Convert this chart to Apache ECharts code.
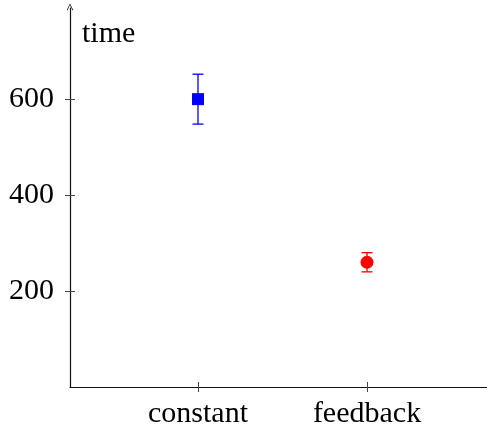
<!DOCTYPE html>
<html>
<head>
<meta charset="utf-8">
<script src="https://cdn.jsdelivr.net/npm/echarts@6/dist/echarts.min.js"></script>
<style>
  html, body { margin: 0; padding: 0; background: #fff; }
  #chart { width: 487px; height: 430px; }
</style>
</head>
<body>
<div id="chart"></div>
<script>
// Conditions and their mean times with error half-widths
const categories = ['constant', 'feedback'];
const meanTimes = [600, 260];
const errorLow = [548, 240];
const errorHigh = [652, 280];
const seriesColors = ['#0000ff', '#ff0000'];
const seriesSymbols = ['rect', 'circle'];
const yTicks = [200, 400, 600];

const FONT = '"Liberation Serif", "DejaVu Serif", serif';
const xPositions = categories.map((c, i) => i + 1);

const chart = echarts.init(document.getElementById('chart'), null, { renderer: 'canvas' });

const baseX = {
  type: 'value', min: 0.2426, max: 2.71,
  splitLine: { show: false }
};
const baseY = {
  type: 'value', min: 0, max: 790,
  splitLine: { show: false }
};

const series = [];
categories.forEach((cat, i) => {
  // error bar: vertical stem with caps
  series.push({
    type: 'custom',
    xAxisIndex: 0, yAxisIndex: 0,
    data: [[xPositions[i], errorLow[i], errorHigh[i]]],
    renderItem: function (params, api) {
      const x = api.value(0);
      const lo = api.coord([x, api.value(1)]);
      const hi = api.coord([x, api.value(2)]);
      const hw = 5.5;
      const style = { stroke: seriesColors[i], lineWidth: 1.3, fill: null };
      return {
        type: 'group',
        children: [
          { type: 'line', shape: { x1: lo[0], y1: lo[1], x2: hi[0], y2: hi[1] }, style },
          { type: 'line', shape: { x1: lo[0] - hw, y1: lo[1], x2: lo[0] + hw, y2: lo[1] }, style },
          { type: 'line', shape: { x1: hi[0] - hw, y1: hi[1], x2: hi[0] + hw, y2: hi[1] }, style }
        ]
      };
    },
    z: 3,
    silent: true
  });
  series.push({
    type: 'scatter',
    xAxisIndex: 0, yAxisIndex: 0,
    symbol: seriesSymbols[i],
    symbolSize: i === 0 ? 12 : 13,
    itemStyle: { color: seriesColors[i], opacity: 1 },
    data: [[xPositions[i], meanTimes[i]]],
    z: 4,
    silent: true
  });
});

chart.setOption({
  animation: false,
  backgroundColor: '#ffffff',
  grid: { left: 70, right: 0, top: 8, bottom: 43, containLabel: false },
  xAxis: [
    Object.assign({}, baseX, {
      position: 'bottom',
      axisLine: { show: true, onZero: false, lineStyle: { color: '#111', width: 1.2 } },
      axisTick: { show: true, inside: false, length: 5, customValues: xPositions, lineStyle: { color: '#444', width: 1 } },
      axisLabel: {
        show: true, customValues: xPositions, margin: 12,
        formatter: v => categories[Math.round(v) - 1] || '',
        color: '#000', fontFamily: FONT, fontSize: 30
      }
    }),
    Object.assign({}, baseX, {
      position: 'bottom',
      axisLine: { show: false, onZero: false },
      axisTick: { show: true, inside: true, length: 5, customValues: xPositions, lineStyle: { color: '#444', width: 1 } },
      axisLabel: { show: false }
    })
  ],
  yAxis: [
    Object.assign({}, baseY, {
      position: 'left',
      name: 'time',
      nameLocation: 'end',
      nameGap: -26,
      nameTextStyle: { color: '#000', fontFamily: FONT, fontSize: 30, align: 'left', verticalAlign: 'middle', padding: [0, 0, 0, 12] },
      axisLine: {
        show: true, onZero: false,
        symbol: ['none', 'path://M0,10 L5,0 L10,10 L9,10.8 L5,2.4 L1,10.8 Z'],
        symbolSize: [8, 7], symbolOffset: [0, 1],
        lineStyle: { color: '#111', width: 1.2 }
      },
      axisTick: { show: true, inside: false, length: 5, customValues: yTicks, lineStyle: { color: '#444', width: 1 } },
      axisLabel: {
        show: true, customValues: yTicks, margin: 16,
        color: '#000', fontFamily: FONT, fontSize: 30
      }
    }),
    Object.assign({}, baseY, {
      position: 'left',
      axisLine: { show: false, onZero: false },
      axisTick: { show: true, inside: true, length: 5, customValues: yTicks, lineStyle: { color: '#444', width: 1 } },
      axisLabel: { show: false }
    })
  ],
  series: series
});
</script>
</body>
</html>
